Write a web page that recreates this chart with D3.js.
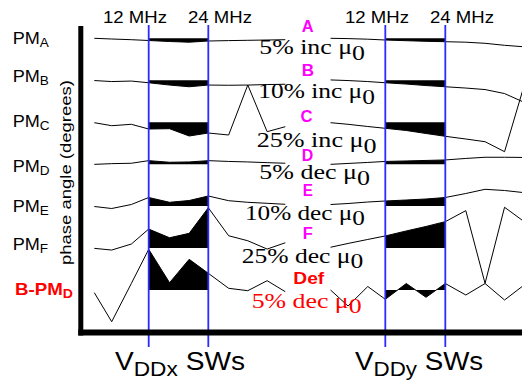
<!DOCTYPE html>
<html><head><meta charset="utf-8">
<script src="https://cdn.jsdelivr.net/npm/d3@7"></script>
<style>body{margin:0;background:#fff}svg{display:block}</style>
</head><body>
<svg id="c" width="522" height="387"></svg>
<script>
// ---------- data ----------
const freqs = [1.05, 4.55, 8.5, 12, 16.2, 20.15, 24, 28.1, 31.95, 35.85, 39.5]; // MHz
const band = [12, 24];
const rows = ["A", "B", "C", "D", "E", "F", "Def"];
const rowPrefix = ["PM", "PM", "PM", "PM", "PM", "PM", "B-PM"];
const rowSub = ["A", "B", "C", "D", "E", "F", "D"];
const changeLabels = ["5% inc ", "10% inc ", "25% inc ", "5% dec ", "10% dec ", "25% dec ", "5% dec "];
const freqTicks = ["12 MHz", "24 MHz"];
const panelNames = [["V", "DDx", " SWs"], ["V", "DDy", " SWs"]];

// phase deviation (deg, arbitrary units) per row, VDDx switching
const vddxPhase = [
  [0, -0.7, -1.4, -2.2, -3.2, -3.9, -2.7, -2.3, -2, -1.7, -1.4],
  [-0.3, -1.3, -0.8, -2.5, -4.8, -6.5, -4.8, -5, -4.8, -4.3, -4],
  [-0.5, -3.5, -2.1, -6.8, -6.5, -13.8, -10.8, -12.8, 37.2, -9.5, -4.5],
  [-0.2, 0.5, 0.9, 3.5, 1.9, 2.2, 3.5, 2.7, 2.2, 1.5, 0.9],
  [-0.4, -2.4, 1.6, 8.6, 3.8, 5.6, 10.1, 5.4, 3.8, 2.8, 1.8],
  [-0.3, -2, 4, 19, 10.3, 14.7, 40.3, 12.3, 7.3, -1, 5.3],
  [-2.7, -31.7, 6.5, 40.7, 7.3, 30.7, 16.7, 1.7, -0.7, 9.3, -1.7]
];
// phase deviation per row, VDDy switching
const vddyPhase = [
  [0, -0.3, -0.9, -1.7, -2.4, -3, -3.4, -3.9, -5, -7, -8.4],
  [0.3, -0.3, -1.3, -2.5, -3.8, -5.3, -6.5, -7.8, -9.3, -13.3, -21.5],
  [-0.5, -2.1, -4.3, -6.1, -8.3, -11.3, -14.1, -16.8, -19.5, -29.5, 32.2],
  [-0.2, 0.7, 1.7, 2.7, 3.2, 3.7, 4.2, 5.7, 6.9, 6.9, 6.7],
  [1.6, 2.6, 4.1, 5.1, 6.1, 7.1, 8.6, 12.6, 16.8, 15.6, 13.6],
  [0.8, 4.6, 8.6, 12.1, 17.1, 21.6, 26.4, 37.4, -35.3, 40.8, 27.4],
  [0, -16, 3.5, -9.3, 6.5, -7.3, 6.5, -5, 6.5, -10, 4]
];

// ---------- layout ----------
const svg = d3.select("#c");
const xX = d3.scaleLinear().domain(band).range([148.7, 208.3]);
const xY = d3.scaleLinear().domain(band).range([385.3, 445.3]);
const yRow = d3.scalePoint().domain(rows).range([38.3, 290]);
const yDeg = d3.scaleLinear().domain([0, 10]).range([0, -10]);

const gFill = svg.append("g"), gLine = svg.append("g");

function drawPanel(x, data) {
  rows.forEach((r, i) => {
    const base = yRow(r);
    const pts = freqs.map((f, j) => ({ f, v: data[i][j] }));
    const inBand = pts.filter(p => p.f >= band[0] && p.f <= band[1]);
    gFill.append("path")
      .attr("d", d3.area().x(p => x(p.f)).y0(base).y1(p => base + yDeg(p.v))(inBand))
      .attr("fill", "#000");
    gLine.append("path")
      .attr("d", d3.line().x(p => x(p.f)).y(p => base + yDeg(p.v))(pts))
      .attr("fill", "none").attr("stroke", "#000").attr("stroke-width", 1);
  });
}
drawPanel(xX, vddxPhase);
drawPanel(xY, vddyPhase);

// blue band markers
[xX, xY].forEach(x => band.forEach(f => {
  svg.append("line").attr("x1", x(f)).attr("x2", x(f)).attr("y1", 25).attr("y2", 347)
    .attr("stroke", "#2b2bff").attr("stroke-width", 1.8);
}));

// axes frame
svg.append("line").attr("x1", 80.8).attr("x2", 80.8).attr("y1", 26).attr("y2", 335.5)
  .attr("stroke", "#000").attr("stroke-width", 5);
svg.append("line").attr("x1", 78.3).attr("x2", 522).attr("y1", 332.5).attr("y2", 332.5)
  .attr("stroke", "#000").attr("stroke-width", 6);

// ---------- text helper ----------
const SANS = "Liberation Sans";
const SERIF = "Liberation Serif";
function label(parts, o) {
  const t = svg.append("text").attr("x", 0).attr("y", o.y)
    .attr("font-family", o.font).attr("font-size", o.size)
    .attr("font-weight", o.weight || "normal").attr("fill", o.fill || "#000");
  let down = false;
  parts.forEach((p, k) => {
    const ts = t.append("tspan").text(p);
    const isSub = k % 2 === 1;
    if (isSub) { ts.attr("font-size", o.subSize || o.size).attr("dy", o.subDy); down = true; }
    else if (down) { ts.attr("dy", -o.subDy); down = false; }
  });
  const bb = t.node().getBBox();
  const s = o.w ? o.w / bb.width : o.s;
  t.attr("transform", `translate(${o.x - s * bb.x},0) scale(${s},1)`);
  return t;
}

// frequency labels
const freqPos = [[103, 188], [345, 430]];
freqPos.forEach(ps => ps.forEach((px, k) => {
  label([freqTicks[k]], { x: px, y: 22.7, font: SANS, size: 16, w: 64 });
}));

// row labels
const rowLabelY = [44.3, 81.7, 126.7, 171.7, 211.7, 250, 295];
rows.forEach((r, i) => {
  const red = i === 6;
  label([rowPrefix[i], rowSub[i]], {
    x: red ? 15 : 12.7, y: rowLabelY[i], font: SANS,
    size: 16, subSize: 12, subDy: 3.2, s: red ? 1.17 : 1.13,
    weight: red ? "bold" : "normal", fill: red ? "#ff0000" : "#000"
  });
});

// middle letters
const letterY = [31.7, 76, 121.7, 160.7, 196, 239.3, 284.3];
const letterX = [301.7, 301.7, 300.5, 301.7, 302.7, 302.7, 293.3];
const letterW = [12.3, 12.3, 12.5, 11.5, 10.5, 10.3, 31.7];
rows.forEach((r, i) => {
  label([r], {
    x: letterX[i], y: letterY[i], font: SANS, size: 16,
    weight: "bold", fill: i === 6 ? "#ff0000" : "#ff00ff", w: letterW[i]
  });
});

// change labels (serif)
const chgX = [259.3, 258.3, 256.7, 259.3, 245, 241.7, 251.7];
const chgY = [54.3, 98.5, 147.5, 179.5, 220, 262.8, 308];
const chgW = [105.7, 116.7, 120, 110.7, 120, 121.6, 110];
changeLabels.forEach((c, i) => {
  label([c + "\u03bc", "0"], {
    x: chgX[i], y: chgY[i], font: SERIF, size: 21,
    subDy: 5.5, w: chgW[i], fill: i === 6 ? "#ff0000" : "#000"
  });
});

// panel names
const panelX = [[115, 130], [355, 128.3]];
panelNames.forEach((p, k) => {
  label(p, { x: panelX[k][0], y: 370, font: SANS,
    size: 26, subSize: 21, subDy: 6.5, w: panelX[k][1] });
});

// y-axis title
const yt = svg.append("text").attr("x", 0).attr("y", 0)
  .attr("font-family", SANS).attr("font-size", 15)
  .text("phase angle (degrees)");
const ybb = yt.node().getBBox();
const ys = 185 / ybb.width;
yt.attr("transform", `translate(70.5,265) rotate(-90) scale(${ys},1) translate(${-ybb.x},0)`);
</script>
</body></html>
